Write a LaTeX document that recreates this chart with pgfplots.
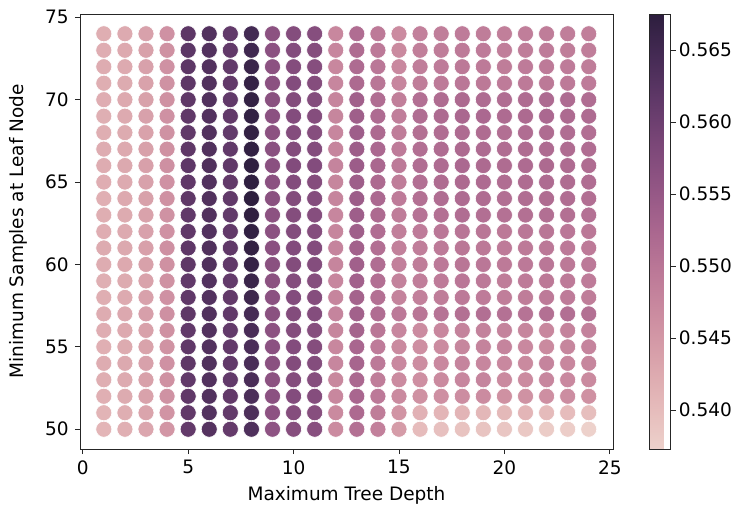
\documentclass[border=0pt]{standalone}
\usepackage{fontspec}
\setmainfont{DejaVu Sans}
\usepackage{pgfplots}
\pgfplotsset{compat=1.18}
\usepackage{pgfplotstable}

\pgfplotstableread{
x y c
1 50 0.5410
1 51 0.5412
1 52 0.5418
1 53 0.5420
1 54 0.5422
1 55 0.5418
1 56 0.5421
1 57 0.5423
1 58 0.5420
1 59 0.5419
1 60 0.5422
1 61 0.5424
1 62 0.5421
1 63 0.5420
1 64 0.5418
1 65 0.5421
1 66 0.5423
1 67 0.5422
1 68 0.5420
1 69 0.5419
1 70 0.5421
1 71 0.5420
1 72 0.5422
1 73 0.5421
1 74 0.5420
2 50 0.5418
2 51 0.5420
2 52 0.5424
2 53 0.5425
2 54 0.5427
2 55 0.5424
2 56 0.5426
2 57 0.5428
2 58 0.5425
2 59 0.5424
2 60 0.5426
2 61 0.5427
2 62 0.5425
2 63 0.5424
2 64 0.5426
2 65 0.5425
2 66 0.5427
2 67 0.5426
2 68 0.5424
2 69 0.5425
2 70 0.5426
2 71 0.5424
2 72 0.5425
2 73 0.5426
2 74 0.5425
3 50 0.5430
3 51 0.5433
3 52 0.5436
3 53 0.5438
3 54 0.5437
3 55 0.5435
3 56 0.5438
3 57 0.5440
3 58 0.5437
3 59 0.5436
3 60 0.5438
3 61 0.5439
3 62 0.5437
3 63 0.5436
3 64 0.5438
3 65 0.5437
3 66 0.5439
3 67 0.5438
3 68 0.5436
3 69 0.5437
3 70 0.5438
3 71 0.5436
3 72 0.5437
3 73 0.5438
3 74 0.5437
4 50 0.5452
4 51 0.5455
4 52 0.5458
4 53 0.5460
4 54 0.5459
4 55 0.5457
4 56 0.5460
4 57 0.5461
4 58 0.5459
4 59 0.5458
4 60 0.5460
4 61 0.5461
4 62 0.5459
4 63 0.5458
4 64 0.5460
4 65 0.5459
4 66 0.5461
4 67 0.5460
4 68 0.5458
4 69 0.5459
4 70 0.5460
4 71 0.5458
4 72 0.5459
4 73 0.5460
4 74 0.5459
5 50 0.5612
5 51 0.5614
5 52 0.5616
5 53 0.5615
5 54 0.5617
5 55 0.5616
5 56 0.5615
5 57 0.5617
5 58 0.5616
5 59 0.5615
5 60 0.5617
5 61 0.5618
5 62 0.5616
5 63 0.5615
5 64 0.5617
5 65 0.5616
5 66 0.5618
5 67 0.5617
5 68 0.5615
5 69 0.5616
5 70 0.5617
5 71 0.5618
5 72 0.5619
5 73 0.5620
5 74 0.5619
6 50 0.5628
6 51 0.5630
6 52 0.5632
6 53 0.5631
6 54 0.5633
6 55 0.5632
6 56 0.5631
6 57 0.5633
6 58 0.5632
6 59 0.5631
6 60 0.5633
6 61 0.5634
6 62 0.5632
6 63 0.5631
6 64 0.5633
6 65 0.5632
6 66 0.5634
6 67 0.5633
6 68 0.5631
6 69 0.5632
6 70 0.5633
6 71 0.5632
6 72 0.5631
6 73 0.5632
6 74 0.5631
7 50 0.5610
7 51 0.5612
7 52 0.5614
7 53 0.5613
7 54 0.5615
7 55 0.5614
7 56 0.5613
7 57 0.5615
7 58 0.5614
7 59 0.5613
7 60 0.5615
7 61 0.5616
7 62 0.5614
7 63 0.5613
7 64 0.5615
7 65 0.5614
7 66 0.5616
7 67 0.5615
7 68 0.5613
7 69 0.5614
7 70 0.5615
7 71 0.5614
7 72 0.5613
7 73 0.5614
7 74 0.5613
8 50 0.5635
8 51 0.5637
8 52 0.5639
8 53 0.5640
8 54 0.5641
8 55 0.5640
8 56 0.5642
8 57 0.5645
8 58 0.5655
8 59 0.5660
8 60 0.5665
8 61 0.5668
8 62 0.5670
8 63 0.5672
8 64 0.5675
8 65 0.5673
8 66 0.5671
8 67 0.5670
8 68 0.5668
8 69 0.5669
8 70 0.5667
8 71 0.5665
8 72 0.5660
8 73 0.5652
8 74 0.5648
9 50 0.5560
9 51 0.5562
9 52 0.5564
9 53 0.5563
9 54 0.5565
9 55 0.5564
9 56 0.5563
9 57 0.5565
9 58 0.5564
9 59 0.5563
9 60 0.5565
9 61 0.5566
9 62 0.5564
9 63 0.5563
9 64 0.5565
9 65 0.5564
9 66 0.5566
9 67 0.5565
9 68 0.5563
9 69 0.5564
9 70 0.5565
9 71 0.5564
9 72 0.5563
9 73 0.5564
9 74 0.5563
10 50 0.5570
10 51 0.5572
10 52 0.5574
10 53 0.5573
10 54 0.5575
10 55 0.5574
10 56 0.5573
10 57 0.5575
10 58 0.5574
10 59 0.5573
10 60 0.5575
10 61 0.5576
10 62 0.5574
10 63 0.5573
10 64 0.5575
10 65 0.5574
10 66 0.5576
10 67 0.5575
10 68 0.5573
10 69 0.5574
10 70 0.5575
10 71 0.5574
10 72 0.5573
10 73 0.5574
10 74 0.5573
11 50 0.5568
11 51 0.5570
11 52 0.5572
11 53 0.5571
11 54 0.5573
11 55 0.5572
11 56 0.5571
11 57 0.5573
11 58 0.5572
11 59 0.5571
11 60 0.5573
11 61 0.5574
11 62 0.5572
11 63 0.5571
11 64 0.5573
11 65 0.5572
11 66 0.5574
11 67 0.5573
11 68 0.5571
11 69 0.5572
11 70 0.5573
11 71 0.5572
11 72 0.5571
11 73 0.5572
11 74 0.5571
12 50 0.5468
12 51 0.5470
12 52 0.5474
12 53 0.5473
12 54 0.5475
12 55 0.5474
12 56 0.5476
12 57 0.5478
12 58 0.5477
12 59 0.5475
12 60 0.5477
12 61 0.5478
12 62 0.5476
12 63 0.5475
12 64 0.5477
12 65 0.5476
12 66 0.5478
12 67 0.5477
12 68 0.5475
12 69 0.5476
12 70 0.5477
12 71 0.5475
12 72 0.5474
12 73 0.5475
12 74 0.5474
13 50 0.5510
14 50 0.5485
15 50 0.5445
16 50 0.5400
17 50 0.5395
18 50 0.5392
19 50 0.5390
20 50 0.5388
21 50 0.5385
22 50 0.5380
23 50 0.5378
24 50 0.5373
13 51 0.5520
14 51 0.5490
15 51 0.5455
16 51 0.5415
17 51 0.5410
18 51 0.5412
19 51 0.5408
20 51 0.5405
21 51 0.5410
22 51 0.5402
23 51 0.5400
24 51 0.5398
13 52 0.5525
14 52 0.5495
15 52 0.5470
16 52 0.5460
17 52 0.5462
18 52 0.5465
19 52 0.5468
20 52 0.5460
21 52 0.5458
22 52 0.5462
23 52 0.5465
24 52 0.5460
13 53 0.5522
14 53 0.5490
15 53 0.5468
16 53 0.5462
17 53 0.5470
18 53 0.5475
19 53 0.5478
20 53 0.5470
21 53 0.5468
22 53 0.5475
23 53 0.5472
24 53 0.5470
13 54 0.5528
14 54 0.5495
15 54 0.5472
16 54 0.5465
17 54 0.5472
18 54 0.5478
19 54 0.5475
20 54 0.5472
21 54 0.5470
22 54 0.5478
23 54 0.5474
24 54 0.5476
13 55 0.5525
14 55 0.5492
15 55 0.5470
16 55 0.5462
17 55 0.5468
18 55 0.5476
19 55 0.5480
20 55 0.5478
21 55 0.5472
22 55 0.5470
23 55 0.5476
24 55 0.5478
13 56 0.5530
14 56 0.5500
15 56 0.5475
16 56 0.5468
17 56 0.5474
18 56 0.5480
19 56 0.5482
20 56 0.5480
21 56 0.5476
22 56 0.5474
23 56 0.5480
24 56 0.5482
13 57 0.5535
14 57 0.5515
15 57 0.5495
16 57 0.5500
17 57 0.5505
18 57 0.5510
19 57 0.5512
20 57 0.5508
21 57 0.5505
22 57 0.5510
23 57 0.5512
24 57 0.5510
13 58 0.5532
14 58 0.5510
15 58 0.5480
16 58 0.5485
17 58 0.5490
18 58 0.5495
19 58 0.5492
20 58 0.5488
21 58 0.5490
22 58 0.5494
23 58 0.5492
24 58 0.5490
13 59 0.5534
14 59 0.5512
15 59 0.5482
16 59 0.5488
17 59 0.5492
18 59 0.5498
19 59 0.5495
20 59 0.5490
21 59 0.5492
22 59 0.5496
23 59 0.5494
24 59 0.5492
13 60 0.5536
14 60 0.5515
15 60 0.5485
16 60 0.5490
17 60 0.5495
18 60 0.5500
19 60 0.5498
20 60 0.5494
21 60 0.5495
22 60 0.5498
23 60 0.5496
24 60 0.5495
13 61 0.5535
14 61 0.5512
15 61 0.5484
16 61 0.5488
17 61 0.5494
18 61 0.5499
19 61 0.5496
20 61 0.5492
21 61 0.5494
22 61 0.5497
23 61 0.5495
24 61 0.5494
13 62 0.5538
14 62 0.5515
15 62 0.5486
16 62 0.5492
17 62 0.5498
18 62 0.5502
19 62 0.5500
20 62 0.5496
21 62 0.5498
22 62 0.5500
23 62 0.5498
24 62 0.5497
13 63 0.5540
14 63 0.5520
15 63 0.5490
16 63 0.5505
17 63 0.5510
18 63 0.5515
19 63 0.5512
20 63 0.5508
21 63 0.5510
22 63 0.5512
23 63 0.5510
24 63 0.5508
13 64 0.5542
14 64 0.5522
15 64 0.5492
16 64 0.5510
17 64 0.5515
18 64 0.5518
19 64 0.5516
20 64 0.5512
21 64 0.5514
22 64 0.5516
23 64 0.5514
24 64 0.5512
13 65 0.5540
14 65 0.5520
15 65 0.5490
16 65 0.5512
17 65 0.5516
18 65 0.5520
19 65 0.5518
20 65 0.5515
21 65 0.5516
22 65 0.5518
23 65 0.5516
24 65 0.5514
13 66 0.5543
14 66 0.5524
15 66 0.5494
16 66 0.5514
17 66 0.5518
18 66 0.5522
19 66 0.5520
20 66 0.5516
21 66 0.5518
22 66 0.5520
23 66 0.5518
24 66 0.5516
13 67 0.5541
14 67 0.5522
15 67 0.5492
16 67 0.5512
17 67 0.5516
18 67 0.5520
19 67 0.5518
20 67 0.5514
21 67 0.5516
22 67 0.5518
23 67 0.5516
24 67 0.5515
13 68 0.5540
14 68 0.5520
15 68 0.5490
16 68 0.5510
17 68 0.5514
18 68 0.5518
19 68 0.5516
20 68 0.5512
21 68 0.5514
22 68 0.5516
23 68 0.5514
24 68 0.5512
13 69 0.5538
14 69 0.5518
15 69 0.5488
16 69 0.5515
17 69 0.5520
18 69 0.5524
19 69 0.5522
20 69 0.5518
21 69 0.5520
22 69 0.5522
23 69 0.5520
24 69 0.5518
13 70 0.5536
14 70 0.5515
15 70 0.5486
16 70 0.5512
17 70 0.5516
18 70 0.5520
19 70 0.5518
20 70 0.5515
21 70 0.5516
22 70 0.5519
23 70 0.5517
24 70 0.5515
13 71 0.5520
14 71 0.5500
15 71 0.5475
16 71 0.5490
17 71 0.5494
18 71 0.5498
19 71 0.5496
20 71 0.5492
21 71 0.5494
22 71 0.5496
23 71 0.5494
24 71 0.5492
13 72 0.5518
14 72 0.5498
15 72 0.5472
16 72 0.5488
17 72 0.5492
18 72 0.5496
19 72 0.5494
20 72 0.5490
21 72 0.5492
22 72 0.5494
23 72 0.5492
24 72 0.5490
13 73 0.5516
14 73 0.5495
15 73 0.5470
16 73 0.5486
17 73 0.5490
18 73 0.5494
19 73 0.5492
20 73 0.5488
21 73 0.5490
22 73 0.5492
23 73 0.5490
24 73 0.5488
13 74 0.5515
14 74 0.5494
15 74 0.5468
16 74 0.5485
17 74 0.5488
18 74 0.5492
19 74 0.5490
20 74 0.5486
21 74 0.5488
22 74 0.5490
23 74 0.5488
24 74 0.5486
}\scores

\begin{document}
\fontsize{18.5}{22}\selectfont
\begin{tikzpicture}
\begin{axis}[
  name=main,
  scale only axis, width=533pt, height=435pt,
  xmin=-0.13, xmax=25.15, ymin=48.8, ymax=75.2,
  xtick={0,5,10,15,20,25}, ytick={50,55,60,65,70,75},
  tick align=outside, tick pos=left, major tick length=5pt,
  axis line style={line width=0.8pt, black!85},
  every tick/.style={black!85, line width=0.8pt},
  xlabel={Maximum Tree Depth}, ylabel={Minimum Samples at Leaf Node},
  ylabel shift=5pt,
  /pgf/number format/assume math mode=true,
  colormap={sns}{rgb255=(237,209,203) rgb255=(229,186,186) rgb255=(218,164,172) rgb255=(205,142,161) rgb255=(189,122,152) rgb255=(170,103,143) rgb255=(147,86,133) rgb255=(123,71,120) rgb255=(97,57,105) rgb255=(70,43,85) rgb255=(45,30,62)},
  point meta min=0.5373, point meta max=0.5675,
  colorbar,
  colorbar style={
    at={(parent axis.north east)}, anchor=north west, xshift=28pt,
    width=21pt, height=435pt,
    ytick={0.540,0.545,0.550,0.555,0.560,0.565},
    yticklabel style={xshift=-3pt, /pgf/number format/.cd, fixed, fixed zerofill, precision=3, assume math mode=true},
    scaled y ticks=false,
    tick align=outside, major tick length=5pt,
    ytick pos=right, yticklabel pos=right,
    axis line style={line width=0.8pt, black!85},
    every tick/.style={black!85, line width=0.8pt},
  },
]
\addplot[scatter, only marks, mark=*, mark size=8pt,
  scatter/use mapped color={draw=white, fill=mapped color},
  mark options={line width=0.6pt},
  point meta=explicit] table[x=x, y=y, meta=c] {\scores};
\end{axis}
\path ([xshift=-80pt,yshift=-61pt]main.south west) rectangle ([xshift=128pt,yshift=14pt]main.north east);
\end{tikzpicture}
\end{document}
